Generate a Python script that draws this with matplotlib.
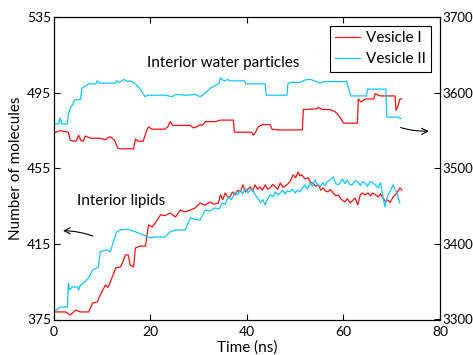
import matplotlib
matplotlib.use("Agg")
import matplotlib.pyplot as plt

# Interior lipid counts (left axis), (time ns, count)
lipids_v1 = [(0, 379.0), (2.4, 379.0), (3.4, 377.4), (4.5, 380.0), (5.5, 379.0), (7.2, 379.0), (8.0, 383.7),
             (9.0, 384.3), (9.6, 388.0), (10.7, 393.3), (11.2, 392.0), (11.7, 394.9), (12.8, 402.3), (13.8, 402.8),
             (14.3, 405.5), (14.8, 409.2), (15.4, 409.2), (15.8, 403.9), (16.5, 402.8), (16.9, 412.9), (17.9, 413.9),
             (19.0, 413.9), (19.6, 425.1), (20.4, 424.0), (21.0, 426.1), (22.1, 430.4), (23.0, 430.0), (24.1, 431.4),
             (25.2, 429.3), (26.2, 433.0), (27.2, 432.0), (28.3, 433.0), (29.3, 434.1), (30.3, 436.7), (31.3, 435.5),
             (32.4, 437.3), (33.2, 436.0), (34.1, 436.7), (34.5, 441.0), (35.0, 438.5), (35.5, 442.0), (36.0, 440.0),
             (36.5, 439.9), (37.0, 442.5), (37.6, 441.0), (38.1, 443.5), (38.6, 442.6), (39.2, 446.3), (39.7, 442.5),
             (40.2, 444.0), (40.7, 445.2), (41.2, 443.0), (41.7, 446.3), (42.2, 444.0), (42.7, 445.2), (43.2, 443.5),
             (43.8, 446.3), (44.3, 444.0), (44.8, 444.7), (45.4, 446.5), (45.9, 445.2), (46.4, 444.0), (46.9, 447.3),
             (47.5, 445.0), (48.3, 446.3), (48.9, 448.0), (49.6, 451.6), (50.1, 450.0), (50.6, 453.1), (51.0, 451.0),
             (51.4, 451.6), (52.0, 449.5), (52.7, 450.0), (53.2, 447.5), (53.7, 447.3), (54.2, 445.5), (54.8, 446.3),
             (55.3, 443.5), (55.8, 444.7), (56.3, 443.0), (56.8, 442.6), (57.3, 443.8), (57.9, 442.0), (58.4, 440.5),
             (58.9, 441.0), (59.6, 438.5), (60.3, 437.3), (60.8, 439.0), (61.4, 436.7), (61.9, 438.0), (62.4, 439.4),
             (63.0, 435.7), (63.5, 441.0), (63.9, 442.0), (64.5, 441.0), (65.1, 442.0), (65.6, 440.5), (66.1, 442.0),
             (66.7, 441.0), (67.2, 439.9), (67.7, 441.5), (68.2, 439.4), (68.7, 437.5), (69.2, 438.3), (69.7, 437.0),
             (70.3, 439.9), (70.7, 441.0), (71.1, 442.0), (71.7, 444.7), (72.1, 443.6)]

lipids_v2 = [(0, 379.0), (1.3, 381.6), (2.8, 381.6), (3.0, 394.3), (3.2, 390.6), (3.8, 392.2), (4.9, 392.2),
             (5.1, 390.6), (5.5, 393.3), (6.0, 394.0), (7.2, 397.0), (8.0, 401.2), (9.2, 402.8), (9.6, 410.8),
             (10.3, 411.5), (11.1, 411.9), (11.7, 410.8), (12.3, 416.1), (13.0, 421.4), (13.8, 422.4), (14.8, 422.8),
             (15.8, 422.4), (16.9, 421.4), (18.5, 419.8), (20.0, 418.2), (21.0, 418.7), (23.0, 418.7), (24.1, 421.4),
             (25.2, 422.4), (27.2, 422.4), (28.3, 428.8), (29.3, 428.0), (30.3, 427.7), (31.4, 433.0), (32.4, 432.5),
             (33.4, 434.1), (34.2, 433.5), (34.9, 436.7), (35.5, 436.0), (36.1, 439.9), (36.8, 438.5), (37.6, 442.6),
             (38.1, 441.0), (38.6, 443.6), (39.1, 441.5), (39.6, 444.7), (40.2, 442.0), (40.7, 443.6), (41.2, 444.0),
             (41.7, 441.0), (42.2, 439.5), (42.8, 437.0), (43.3, 438.5), (43.8, 435.7), (44.3, 439.0), (44.8, 441.0),
             (45.4, 440.0), (45.9, 442.5), (46.4, 441.0), (46.9, 442.0), (47.4, 443.5), (47.9, 441.5), (48.4, 443.0),
             (48.9, 442.6), (49.4, 444.0), (50.0, 442.0), (50.5, 443.5), (51.0, 442.6), (51.5, 444.5), (52.0, 446.3),
             (52.5, 444.0), (53.1, 447.3), (53.6, 445.5), (54.1, 448.9), (54.6, 446.5), (55.2, 445.2), (55.7, 447.5),
             (56.2, 446.0), (56.6, 447.8), (57.2, 449.0), (57.9, 450.5), (58.4, 447.0), (58.9, 446.3), (59.3, 447.3),
             (59.8, 449.5), (60.3, 447.0), (60.8, 448.9), (61.3, 446.5), (61.8, 446.3), (62.4, 448.5), (63.0, 447.8),
             (63.5, 446.0), (64.0, 448.0), (64.5, 447.3), (65.0, 445.5), (65.5, 448.0), (65.9, 447.8), (66.5, 446.5),
             (67.2, 444.7), (67.7, 447.5), (68.2, 439.9), (68.6, 434.6), (69.1, 440.0), (69.6, 442.6), (70.3, 446.3),
             (70.7, 444.0), (71.1, 442.0), (71.7, 436.7)]

# Interior water particles (right axis)
water_v1 = [(0, 3547), (1.3, 3550), (3.0, 3548), (3.4, 3537), (4.6, 3536), (5.1, 3544), (5.6, 3537), (6.1, 3536),
            (6.5, 3543), (7.6, 3540), (9.6, 3540), (10.7, 3538), (11.2, 3541), (11.7, 3542), (12.6, 3537),
            (13.2, 3527), (13.8, 3526), (16.5, 3526), (16.9, 3539), (17.5, 3536), (18.5, 3536), (19.2, 3550),
            (19.6, 3555), (20.3, 3552), (23.0, 3552), (23.6, 3555), (24.1, 3562), (24.6, 3557), (28.3, 3557),
            (28.8, 3554), (29.3, 3554), (30.3, 3558), (30.8, 3557), (31.4, 3562), (33.4, 3562), (34.5, 3564),
            (37.2, 3564), (37.4, 3548), (41.0, 3548), (41.3, 3544), (41.8, 3548), (42.3, 3555), (43.2, 3558),
            (44.8, 3558), (45.2, 3552), (46.5, 3551), (51.5, 3551), (51.7, 3578), (54.5, 3579), (54.8, 3581),
            (55.6, 3578), (57.2, 3578), (58.3, 3575), (59.3, 3568), (60.0, 3560), (62.9, 3560), (63.1, 3592),
            (63.6, 3588), (64.1, 3590), (64.5, 3592), (66.3, 3592), (66.6, 3599), (67.6, 3596), (70.7, 3596),
            (70.9, 3577), (71.3, 3582), (71.7, 3592), (72.1, 3592)]

water_v2 = [(0, 3559), (1.0, 3559), (1.3, 3567), (1.7, 3559), (2.8, 3559), (3.0, 3572), (3.4, 3580), (3.9, 3585),
            (4.3, 3591), (5.5, 3591), (5.8, 3606), (6.5, 3609), (7.2, 3612), (8.7, 3612), (9.0, 3616), (9.4, 3613),
            (12.8, 3613), (13.0, 3616), (13.6, 3614), (14.6, 3618), (15.2, 3615), (15.8, 3616), (16.9, 3612),
            (17.9, 3605), (18.9, 3595), (19.5, 3597), (23.0, 3597), (24.5, 3595), (25.2, 3598), (27.5, 3597),
            (29.3, 3598), (30.3, 3595), (31.0, 3598), (32.4, 3606), (33.5, 3610), (34.2, 3612), (34.5, 3620),
            (35.0, 3617), (35.5, 3616), (36.0, 3618), (36.5, 3616), (39.5, 3616), (39.8, 3612), (43.8, 3612),
            (44.0, 3597), (48.3, 3597), (48.5, 3612), (49.0, 3614), (51.0, 3614), (52.0, 3617), (53.1, 3618),
            (54.0, 3616), (55.2, 3613), (56.0, 3615), (60.7, 3615), (61.0, 3608), (61.5, 3596), (64.8, 3596),
            (65.0, 3605), (68.8, 3605), (69.0, 3568), (71.3, 3568), (71.9, 3566)]

left_ticks = [375, 415, 455, 495, 535]
right_ticks = [3300, 3400, 3500, 3600, 3700]
x_ticks = [0, 20, 40, 60, 80]

RED = "#ff1010"
CYAN = "#10c4ff"

plt.rcParams["font.family"] = ["Lato", "DejaVu Sans"]
plt.rcParams["font.size"] = 11

fig = plt.figure(figsize=(4.73, 3.55), dpi=100)
ax = fig.add_axes([0.114, 0.1, 0.816, 0.851])
ax2 = ax.twinx()

def split(pairs):
    return [p[0] for p in pairs], [p[1] for p in pairs]

t, v = split(lipids_v1)
l1, = ax.plot(t, v, color=RED, lw=0.9, label="Vesicle I")
t, v = split(lipids_v2)
l2, = ax.plot(t, v, color=CYAN, lw=0.9, label="Vesicle II")
t, v = split(water_v1)
ax2.plot(t, v, color=RED, lw=0.9)
t, v = split(water_v2)
ax2.plot(t, v, color=CYAN, lw=0.9)

ax.set_xlim(0, 80)
ax.set_ylim(375, 535)
ax2.set_ylim(3300, 3700)
ax.set_xticks(x_ticks)
ax.set_yticks(left_ticks)
ax2.set_yticks(right_ticks)
ax.tick_params(axis="both", direction="in", top=True, length=4, width=0.8, labelsize=10)
ax.tick_params(axis="x", pad=5)
ax.tick_params(axis="y", pad=2)
ax2.tick_params(direction="in", length=4, width=0.8, pad=1.5, labelsize=9.5)

ax.set_xlabel("Time (ns)", labelpad=1.5)
ax.set_ylabel("Number of molecules", labelpad=3)

ax.text(19.2, 511, "Interior water particles", fontsize=11, va="center")
ax.text(4.8, 437.5, "Interior lipids", fontsize=11, va="center")

ax.annotate("", xy=(1.3, 422), xytext=(8.6, 418.7),
            arrowprops=dict(arrowstyle="->", color="black", lw=0.8, connectionstyle="arc3,rad=0.1"))
ax.annotate("", xy=(78.3, 474.9), xytext=(71.3, 477.1),
            arrowprops=dict(arrowstyle="->", color="black", lw=0.8, connectionstyle="arc3,rad=0.1"))

leg = ax.legend(handles=[l1, l2], loc="upper right", fancybox=False, edgecolor="black",
                framealpha=1, borderpad=0.35, handlelength=1.6, handletextpad=0.4,
                labelspacing=0.45, bbox_to_anchor=(0.997, 0.997))
leg.get_frame().set_linewidth(0.8)

fig.savefig("out.png", dpi=100)
